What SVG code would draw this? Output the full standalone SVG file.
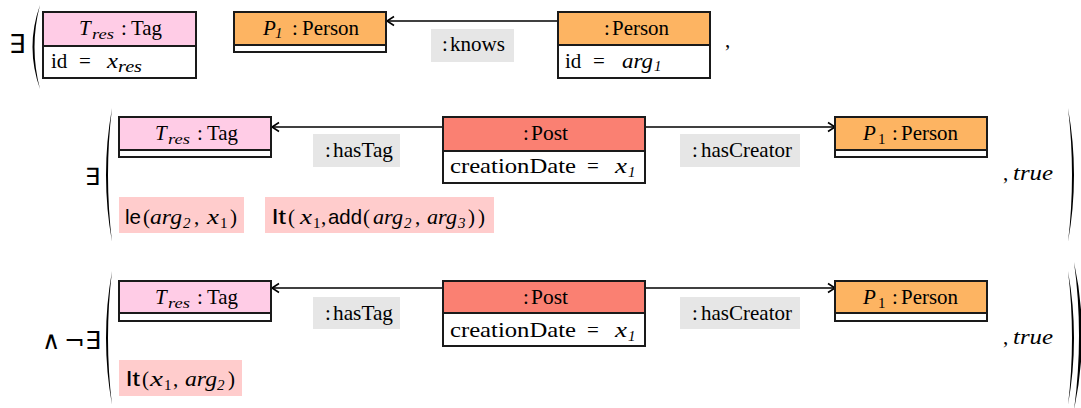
<svg xmlns="http://www.w3.org/2000/svg" width="1081" height="408" viewBox="0 0 1081 408">
<style>
.box{stroke:#1a1a1a;stroke-width:2}
.w{fill:#fff}
.tag{fill:#FFCCE6}
.person{fill:#FDB462}
.post{fill:#FA8072}
.lbl{fill:#E6E6E6}
.con{fill:#FFCCCC}
.t{font-family:'Liberation Serif','Times New Roman',Times,'Nimbus Roman','Noto Serif',FreeSerif,Tinos,'DejaVu Serif',Georgia,serif;font-size:21px;fill:#000}
.i{font-style:italic}
.sub{font-size:15px}
.sans{font-family:'Liberation Sans',Arial,sans-serif}
.sym{font-family:'DejaVu Sans',sans-serif;fill:#000}
.edge{stroke:#000;stroke-width:1.6;fill:none}
.paren{fill:#000}
</style>
<defs>
<marker id="arr" markerWidth="12" markerHeight="12" refX="10" refY="6" orient="auto" markerUnits="userSpaceOnUse">
<path d="M3,1.5 L10,6 L3,10.5" fill="none" stroke="#000" stroke-width="1.6"/>
</marker>
</defs>

<!-- brackets and quantifiers -->
<g id="formula">
<text class="sym" x="9" y="53" font-size="26">∃</text>
<path class="paren" d="M40,5 Q25,47 40,89 Q29,47 40,5Z"/>
<text class="t" x="725" y="47">,</text>
<text class="sym" x="85" y="185" font-size="24">∃</text>
<path class="paren" d="M112,108 Q100,175 112,242 Q104,175 112,108Z"/>
<path class="paren" d="M1068,108 Q1080,175 1068,242 Q1076,175 1068,108Z"/>
<text class="t"><tspan x="1003" y="180">,</tspan><tspan class="i" x="1013" y="180" textLength="40" lengthAdjust="spacingAndGlyphs">true</tspan></text>
<text class="sym" font-size="25"><tspan x="42" y="349">∧</tspan><tspan x="64" y="349">¬</tspan><tspan x="85" y="349">∃</tspan></text>
<path class="paren" d="M112,271 Q100,338 112,405 Q104,338 112,271Z"/>
<path class="paren" d="M1068,271 Q1080,338 1068,405 Q1076,338 1068,271Z"/>
<path class="paren" d="M1074,262 Q1090,335 1074,410 Q1084,335 1074,262Z"/>
<text class="t"><tspan x="1003" y="344">,</tspan><tspan class="i" x="1013" y="344" textLength="40" lengthAdjust="spacingAndGlyphs">true</tspan></text>
</g>

<!-- connectors -->
<g id="connectors">
<line class="edge" x1="558" y1="21" x2="387" y2="21" marker-end="url(#arr)"/>
<line class="edge" x1="443" y1="127" x2="272" y2="127" marker-end="url(#arr)"/>
<line class="edge" x1="645" y1="127" x2="835" y2="127" marker-end="url(#arr)"/>
<line class="edge" x1="443" y1="288" x2="272" y2="288" marker-end="url(#arr)"/>
<line class="edge" x1="645" y1="288" x2="835" y2="288" marker-end="url(#arr)"/>
<g id="lbl-knows"><rect class="lbl" x="431" y="29" width="83" height="33"/><text class="t"><tspan x="442" y="51">:</tspan><tspan x="450" y="51" textLength="55" lengthAdjust="spacingAndGlyphs">knows</tspan></text></g>
<g id="lbl-hasTag2"><rect class="lbl" x="313" y="134" width="87" height="33"/><text class="t"><tspan x="325" y="157">:</tspan><tspan x="333" y="157" textLength="60" lengthAdjust="spacingAndGlyphs">hasTag</tspan></text></g>
<g id="lbl-hasCreator2"><rect class="lbl" x="680" y="134" width="120" height="33"/><text class="t"><tspan x="692" y="157">:</tspan><tspan x="701" y="157" textLength="91" lengthAdjust="spacingAndGlyphs">hasCreator</tspan></text></g>
<g id="lbl-hasTag3"><rect class="lbl" x="313" y="297" width="87" height="32"/><text class="t"><tspan x="325" y="320">:</tspan><tspan x="333" y="320" textLength="60" lengthAdjust="spacingAndGlyphs">hasTag</tspan></text></g>
<g id="lbl-hasCreator3"><rect class="lbl" x="680" y="297" width="120" height="32"/><text class="t"><tspan x="692" y="320">:</tspan><tspan x="701" y="320" textLength="91" lengthAdjust="spacingAndGlyphs">hasCreator</tspan></text></g>
</g>

<!-- row 1 nodes -->
<g id="tag1">
<rect class="box w" x="43" y="12" width="153" height="66"/>
<rect class="box tag" x="43" y="12" width="153" height="34"/>
<text class="t"><tspan class="i" x="79" y="35">T</tspan><tspan class="i sub" x="92" y="39" textLength="22" lengthAdjust="spacingAndGlyphs">res</tspan><tspan x="121" y="35">:</tspan><tspan x="131" y="35" textLength="31" lengthAdjust="spacingAndGlyphs">Tag</tspan></text>
<text class="t"><tspan x="51" y="68">id</tspan><tspan x="79" y="68">=</tspan><tspan class="i" x="107" y="68" textLength="11" lengthAdjust="spacingAndGlyphs">x</tspan><tspan class="i" x="118" y="72" font-size="17" textLength="24" lengthAdjust="spacingAndGlyphs">res</tspan></text>
</g>
<g id="p1-1">
<rect class="box w" x="234" y="12" width="152" height="40"/>
<rect class="box person" x="234" y="12" width="152" height="33"/>
<text class="t"><tspan class="i" x="263" y="35">P</tspan><tspan class="i sub" x="275" y="38">1</tspan><tspan x="292" y="35">:</tspan><tspan x="302" y="35" textLength="57" lengthAdjust="spacingAndGlyphs">Person</tspan></text>
</g>
<g id="person1">
<rect class="box w" x="558" y="12" width="152" height="66"/>
<rect class="box person" x="558" y="12" width="152" height="33"/>
<text class="t"><tspan x="604" y="35">:</tspan><tspan x="612" y="35" textLength="57" lengthAdjust="spacingAndGlyphs">Person</tspan></text>
<text class="t"><tspan x="565" y="68">id</tspan><tspan x="593" y="68">=</tspan><tspan class="i" x="622" y="68" textLength="31" lengthAdjust="spacingAndGlyphs">arg</tspan><tspan class="i sub" x="654" y="71">1</tspan></text>
</g>

<!-- row 2 nodes -->
<g id="tag2">
<rect class="box w" x="119" y="117" width="152" height="40"/>
<rect class="box tag" x="119" y="117" width="152" height="33"/>
<text class="t"><tspan class="i" x="155" y="140">T</tspan><tspan class="i sub" x="168" y="144" textLength="22" lengthAdjust="spacingAndGlyphs">res</tspan><tspan x="197" y="140">:</tspan><tspan x="207" y="140" textLength="31" lengthAdjust="spacingAndGlyphs">Tag</tspan></text>
</g>
<g id="post2">
<rect class="box w" x="443" y="117" width="202" height="66"/>
<rect class="box post" x="443" y="117" width="202" height="34"/>
<text class="t"><tspan x="523" y="140">:</tspan><tspan x="531" y="140" textLength="37" lengthAdjust="spacingAndGlyphs">Post</tspan></text>
<text class="t"><tspan x="450" y="173" textLength="126" lengthAdjust="spacingAndGlyphs">creationDate</tspan><tspan x="587" y="173">=</tspan><tspan class="i" x="615" y="173" textLength="12" lengthAdjust="spacingAndGlyphs">x</tspan><tspan class="i sub" x="628" y="177">1</tspan></text>
</g>
<g id="p1-2">
<rect class="box w" x="835" y="117" width="152" height="40"/>
<rect class="box person" x="835" y="117" width="152" height="33"/>
<text class="t"><tspan class="i" x="863" y="140">P</tspan><tspan class="sub" x="878" y="144">1</tspan><tspan x="892" y="140">:</tspan><tspan x="901" y="140" textLength="57" lengthAdjust="spacingAndGlyphs">Person</tspan></text>
</g>
<g id="con2a">
<rect class="con" x="119" y="197" width="125" height="36"/>
<text class="t"><tspan class="sans" x="125" y="224" textLength="16" lengthAdjust="spacingAndGlyphs">le</tspan><tspan x="143" y="224">(</tspan><tspan class="i" x="150" y="224" textLength="32" lengthAdjust="spacingAndGlyphs">arg</tspan><tspan class="i sub" x="183" y="228">2</tspan><tspan x="194" y="224">,</tspan><tspan class="i" x="207" y="224" textLength="12" lengthAdjust="spacingAndGlyphs">x</tspan><tspan class="sub" x="220" y="228">1</tspan><tspan x="230" y="224">)</tspan></text>
</g>
<g id="con2b">
<rect class="con" x="265" y="197" width="229" height="36"/>
<text class="t"><tspan class="sans" x="272" y="224" textLength="14" lengthAdjust="spacingAndGlyphs">lt</tspan><tspan x="288" y="224">(</tspan><tspan class="i" x="300" y="224" textLength="12" lengthAdjust="spacingAndGlyphs">x</tspan><tspan class="sub" x="313" y="228">1</tspan><tspan x="321" y="224">,</tspan><tspan class="sans" x="328" y="224" textLength="34" lengthAdjust="spacingAndGlyphs">add</tspan><tspan x="363" y="224">(</tspan><tspan class="i" x="373" y="224" textLength="30" lengthAdjust="spacingAndGlyphs">arg</tspan><tspan class="i sub" x="404" y="228">2</tspan><tspan x="415" y="224">,</tspan><tspan class="i" x="427" y="224" textLength="30" lengthAdjust="spacingAndGlyphs">arg</tspan><tspan class="i sub" x="458" y="228">3</tspan><tspan x="468" y="224">)</tspan><tspan x="478" y="224">)</tspan></text>
</g>

<!-- row 3 nodes -->
<g id="tag3">
<rect class="box w" x="119" y="281" width="152" height="40"/>
<rect class="box tag" x="119" y="281" width="152" height="32"/>
<text class="t"><tspan class="i" x="155" y="304">T</tspan><tspan class="i sub" x="168" y="308" textLength="22" lengthAdjust="spacingAndGlyphs">res</tspan><tspan x="197" y="304">:</tspan><tspan x="207" y="304" textLength="31" lengthAdjust="spacingAndGlyphs">Tag</tspan></text>
</g>
<g id="post3">
<rect class="box w" x="443" y="281" width="202" height="65"/>
<rect class="box post" x="443" y="281" width="202" height="32"/>
<text class="t"><tspan x="523" y="304">:</tspan><tspan x="531" y="304" textLength="37" lengthAdjust="spacingAndGlyphs">Post</tspan></text>
<text class="t"><tspan x="450" y="337" textLength="126" lengthAdjust="spacingAndGlyphs">creationDate</tspan><tspan x="587" y="337">=</tspan><tspan class="i" x="615" y="337" textLength="12" lengthAdjust="spacingAndGlyphs">x</tspan><tspan class="i sub" x="628" y="341">1</tspan></text>
</g>
<g id="p1-3">
<rect class="box w" x="835" y="281" width="152" height="40"/>
<rect class="box person" x="835" y="281" width="152" height="32"/>
<text class="t"><tspan class="i" x="863" y="304">P</tspan><tspan class="sub" x="878" y="308">1</tspan><tspan x="892" y="304">:</tspan><tspan x="901" y="304" textLength="57" lengthAdjust="spacingAndGlyphs">Person</tspan></text>
</g>
<g id="con3">
<rect class="con" x="119" y="360" width="123" height="36"/>
<text class="t"><tspan class="sans" x="126" y="386" textLength="14" lengthAdjust="spacingAndGlyphs">lt</tspan><tspan x="142" y="386">(</tspan><tspan class="i" x="150" y="386" textLength="13" lengthAdjust="spacingAndGlyphs">x</tspan><tspan class="sub" x="164" y="390">1</tspan><tspan x="173" y="386">,</tspan><tspan class="i" x="185" y="386" textLength="32" lengthAdjust="spacingAndGlyphs">arg</tspan><tspan class="i sub" x="217" y="390">2</tspan><tspan x="228" y="386">)</tspan></text>
</g>
</svg>
